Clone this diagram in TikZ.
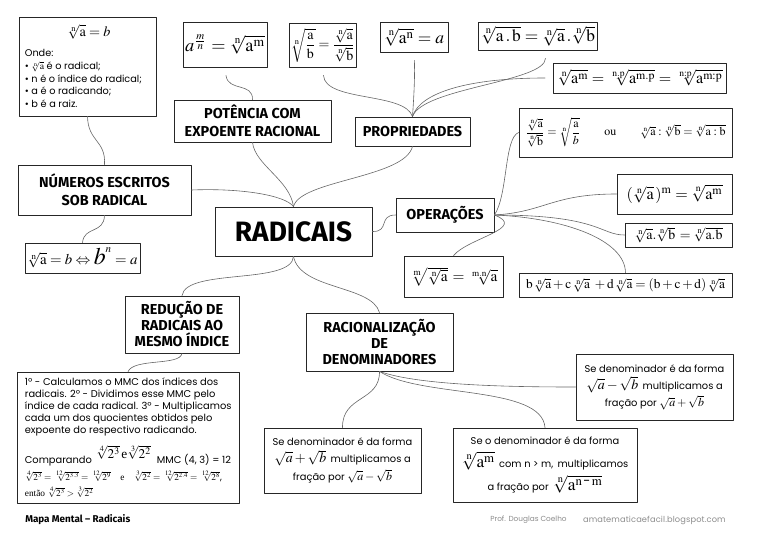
\documentclass[tikz,border=0pt]{standalone}
\usepackage{amsmath}
\usepackage{mathptmx}
\usepackage[no-math]{fontspec}
\setmainfont{Poppins}
\newfontfamily\titulofont{Fira Sans}
\newfontfamily\timesfont{Liberation Serif}
\usetikzlibrary{calc}

\newdimen\px \px=0.75pt
\newcommand\ajusta[2]{\resizebox{#1\px}{!}{#2}}
\newcommand\rz[2]{\sqrt[\mathrm{#1}]{\mathrm{#2}}}

\begin{document}
\begin{tikzpicture}[x=0.75pt, y=-0.75pt, line join=round, line cap=round,
	caixa/.style={draw=black!85, line width=0.6pt, inner sep=0pt, align=center},
	tam/.style 2 args={minimum width=#1*0.75pt, minimum height=#2*0.75pt},
	titulo/.style={caixa, font=\titulofont\bfseries\fontsize{10.8}{13.5}\selectfont},
	corpo/.style={caixa, font=\fontsize{7.4}{12}\selectfont},
	solto/.style={inner sep=0pt, align=left},
	ramo/.style={draw=black!60, line width=0.45pt},
	folga/.style={ramo, shorten >=6pt}]
	\useasboundingbox (0,0) rectangle (768,542);
	
	% [Centro e temas - Layer 1]
	\node[caixa, tam={157}{49}, font=\titulofont\bfseries\fontsize{21}{24}\selectfont] (radicais) at (293.5,231.5) {RADICAIS};
	\node[titulo, tam={173}{50}] (numeros) at (104.5,190) {NÚMEROS ESCRITOS\\SOB RADICAL};
	\node[titulo, tam={157}{42}] (potencia) at (252.5,121) {POTÊNCIA COM\\EXPOENTE RACIONAL};
	\node[titulo, tam={115}{29}] (propriedades) at (412.5,131.5) {PROPRIEDADES};
	\node[titulo, tam={98}{34}] (operacoes) at (445,215) {OPERAÇÕES};
	\node[titulo, tam={114}{57}, font=\titulofont\bfseries\fontsize{10.8}{12}\selectfont] (reducao) at (182,324.5) {REDUÇÃO DE\\RADICAIS AO\\MESMO ÍNDICE};
	\node[titulo, tam={147}{58}, font=\titulofont\bfseries\fontsize{10.8}{12}\selectfont] (racional) at (379.5,342) {RACIONALIZAÇÃO\\DE\\DENOMINADORES};
	
	% [Definição - Layer 2]
	\node[caixa, tam={137}{99}] (definicao) at (87.5,66.5) {};
	\node[solto] (defformula) at (89,32) {\ajusta{43}{$\rz{n}{a} = b$}};
	\node[solto, anchor=north west, font=\fontsize{7.3}{9.3}\selectfont] (deflista) at ($(definicao.north west)+(6,32)$)
		{Onde:\\[1pt] • $\rz{n}{a}$ é o radical;\\ • n é o índice do radical;\\ • a é o radicando;\\ • b é a raiz.};
	\node[caixa, tam={115}{30}] (numformula) at (82.5,258) {\ajusta{110}{$\rz{n}{a} = b \Leftrightarrow \scalebox{1.6}{$b$}^{n} = a$}};
	
	% [Propriedades - Layer 3]
	\node[caixa, tam={84}{45}] (potformula) at (225,44.5) {\ajusta{80}{$a^{\frac{m}{n}} = \rz{n}{a^{\mathrm m}}$}};
	\node[caixa, tam={67}{44}] (quoformula) at (323,45) {\ajusta{64}{$\sqrt[\mathrm n]{\dfrac{\mathrm a}{\mathrm b}} = \dfrac{\rz{n}{a}}{\rz{n}{b}}$}};
	\node[caixa, tam={68}{30}] (powformula) at (414,37) {\ajusta{60}{$\rz{n}{a^n} = a$}};
	\node[caixa, tam={119}{28}] (prodformula) at (538,36) {\ajusta{114}{$\rz{n}{a\,.\,b} = \rz{n}{a}\,.\rz{n}{b}$}};
	\node[caixa, tam={173}{30}] (simpformula) at (640,78) {\ajusta{165}{$\rz{n}{a^m} = \rz{n.p}{a^{m.p}} = \rz{n:p}{a^{m:p}}$}};
	
	% [Operações - Layer 4]
	\node[caixa, tam={213}{49}] (divformula) at (625.5,132.5) {\ajusta{200}{$\dfrac{\rz{n}{a}}{\rz{n}{b}} = \sqrt[\mathrm n]{\dfrac{\mathrm a}{b}}\qquad \mathrm{ou}\qquad \rz{n}{a}:\rz{n}{b} = \rz{n}{a:b}$}};
	\node[caixa, tam={115}{40}] (potopformula) at (674.5,194) {\ajusta{96}{$(\rz{n}{a}\,)^{\mathrm m} = \rz{n}{a^m}$}};
	\node[caixa, tam={107}{24}] (multformula) at (678.5,235) {\ajusta{88}{$\rz{n}{a}.\rz{n}{b}\, = \rz{n}{a.b}$}};
	\node[caixa, tam={213}{24}] (somaformula) at (625.5,285) {\ajusta{199}{$\mathrm b\,\rz{n}{a} + \mathrm c\,\rz{n}{a}\; + \mathrm d\,\rz{n}{a} = (\mathrm{b+c+d})\,\rz{n}{a}$}};
	\node[caixa, tam={99}{41}] (raizformula) at (453.5,276.5) {\ajusta{88}{$\sqrt[\mathrm m]{\rz{n}{a}}\, = \rz{m.n}{a}$}};
	
	% [Redução e racionalização - Layer 5]
	\node[caixa, tam={222}{131}] (reducaotexto) at (128,437.5) {};
	\node[solto, anchor=north west, font=\fontsize{7.4}{9}\selectfont] (reducaolista) at ($(reducaotexto.north west)+(8,6)$)
		{1º - Calculamos o MMC dos índices dos\\ radicais. 2º - Dividimos esse MMC pelo\\ índice de cada radical. 3º - Multiplicamos\\ cada um dos quocientes obtidos pelo\\ expoente do respectivo radicando.\\[6pt]
		Comparando\, \raisebox{4pt}{\fontsize{10}{10}\selectfont$\sqrt[4]{2^3}\,${\timesfont e}$\sqrt[3]{2^2}$}\,\, MMC (4, 3) = 12\\[2.5pt]
		{\fontsize{7}{8}\selectfont$\sqrt[4]{2^3}=\sqrt[12]{2^{3.3}}=\sqrt[12]{2^9}$\quad{\timesfont e}\quad$\sqrt[3]{2^2}=\sqrt[12]{2^{2.4}}=\sqrt[12]{2^8}$,}\\[3pt]
		{\fontsize{7}{8}\selectfont{\timesfont então} $\sqrt[4]{2^3} > \sqrt[3]{2^2}$}};
	\node[corpo, tam={157}{65}] (racsoma) at (342.5,460.5)
		{Se denominador é da forma\\[1pt] {\fontsize{10.5}{12}\selectfont$\sqrt{a}+\sqrt{b}$}\, multiplicamos a\\[1pt] fração por {\fontsize{9}{12}\selectfont$\sqrt{a}-\sqrt{b}$}};
	\node[corpo, tam={184}{74}] (racpot) at (545,465)
		{Se o denominador é da forma\\[5pt] {\fontsize{13}{14}\selectfont$\rz{n}{a^m}$}\, com n > m,\, multiplicamos\\[3pt] a fração por\, {\fontsize{13}{14}\selectfont$\rz{n}{a^{\mathrm n\,\text{-}\,\mathrm m}}$}};
	\node[corpo, tam={157}{66}] (racdif) at (654.5,387)
		{Se denominador é da forma\\[1pt] {\fontsize{10.5}{12}\selectfont$\sqrt{a}-\sqrt{b}$}\, multiplicamos a\\[1pt] fração por {\fontsize{9}{12}\selectfont$\sqrt{a}+\sqrt{b}$}};
	
	% [Ramos - Layer 6]
	\draw[ramo] (radicais.north) .. controls (285,195) and (240,188) .. (numeros.east);
	\draw[ramo] (radicais.north) .. controls (290,180) and (255,165) .. (potencia.south);
	\draw[ramo] (radicais.north) .. controls (300,180) and (405,178) .. (propriedades.south);
	\draw[ramo] (radicais.east) .. controls (390,232) and (378,215) .. (operacoes.west);
	\draw[ramo] (radicais.south) .. controls (292,285) and (186,268) .. (reducao.north);
	\draw[ramo] (radicais.south) .. controls (300,290) and (372,285) .. (racional.north);
	\draw[ramo] (numeros.north) .. controls (106,140) and (88,142) .. (definicao.south);
	\draw[ramo] (numeros.south) .. controls (104,234) and (84,226) .. (numformula.north);
	\draw[folga] (potencia.north) .. controls (253,82) and (228,92) .. (potformula.south);
	\draw[folga] (propriedades.north) .. controls (405,92) and (325,102) .. (quoformula.south);
	\draw[folga] (propriedades.north) .. controls (414,95) and (415,75) .. (powformula.south);
	\draw[folga] (propriedades.north) .. controls (422,88) and (545,82) .. (prodformula.298);
	\draw[folga] (propriedades.north) .. controls (420,92) and (470,78) .. (simpformula.west);
	\draw[ramo] (operacoes.east) .. controls (508,195) and (504,138) .. (divformula.west);
	\draw[ramo] (operacoes.east) .. controls (545,212) and (552,194) .. (potopformula.west);
	\draw[ramo] (operacoes.east) .. controls (600,215) and (600,235) .. (multformula.west);
	\draw[ramo] (operacoes.east) .. controls (565,218) and (625,240) .. (somaformula.north);
	\draw[ramo] (operacoes.east) .. controls (528,228) and (468,238) .. (raizformula.north);
	\draw[ramo] (reducao.south) .. controls (180,366) and (134,358) .. (reducaotexto.north);
	\draw[ramo] (racional.south) .. controls (380,402) and (342,395) .. (racsoma.north);
	\draw[ramo] (racional.south) .. controls (420,398) and (542,385) .. (racpot.north);
	\draw[ramo] (racional.south) .. controls (420,386) and (520,387) .. (racdif.west);
	
	% [Rodapé - Layer 7]
	\node[solto, anchor=west, font=\titulofont\bfseries\fontsize{7.4}{9}\selectfont] (rodapetitulo) at (25,520) {Mapa Mental – Radicais};
	\node[solto, anchor=west, text=black!45, font=\fontsize{5.5}{7}\selectfont] (rodapeautor) at (490,520) {Prof. Douglas Coelho};
	\node[solto, anchor=east, text=black!45, font=\fontsize{6.2}{7}\selectfont\addfontfeatures{LetterSpace=1.5}] (rodapesite) at (726,520) {amatematicaefacil.blogspot.com};
\end{tikzpicture}
\end{document}
